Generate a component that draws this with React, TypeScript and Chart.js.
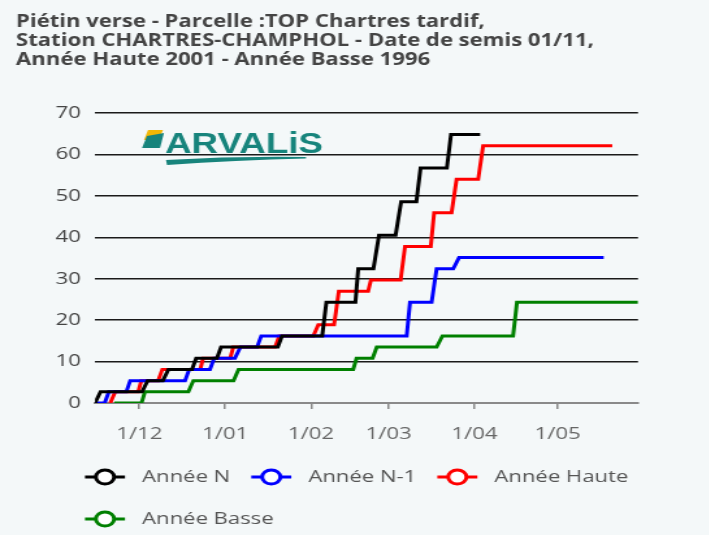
import React, { useEffect, useRef } from 'react';
import { Chart, registerables } from 'chart.js';

Chart.register(...registerables);

const titleLines = [
  'Piétin verse - Parcelle :TOP Chartres tardif,',
  'Station CHARTRES-CHAMPHOL - Date de semis 01/11,',
  'Année Haute 2001 - Année Basse 1996',
];

// x = days since 1 November (sowing date)
const xMinDay = 14;
const xMaxDay = 210;
const xTickDays = [30, 61, 92, 120, 151, 181];
const xTickLabels = ['1/12', '1/01', '1/02', '1/03', '1/04', '1/05'];
const yMax = 70;
const yStep = 10;

const seriesNames = ['Année N', 'Année N-1', 'Année Haute', 'Année Basse'];
const seriesColors = ['#000000', '#0000ff', '#ff0000', '#008000'];

const anneeNDays = [14, 16, 31, 33, 38.5, 40.5, 49, 50.5, 58, 59.5, 80, 81.5, 96, 97.5, 108, 109, 114.5, 116.5, 122.5, 124.5, 130, 131.5, 141, 142.5, 153];
const anneeNValues = [0, 2.7, 2.7, 5.4, 5.4, 8.1, 8.1, 10.8, 10.8, 13.5, 13.5, 16.2, 16.2, 24.3, 24.3, 32.4, 32.4, 40.5, 40.5, 48.6, 48.6, 56.7, 56.7, 64.8, 64.8];

const anneeN1Days = [14, 17.5, 19, 25.3, 26.7, 46.5, 48, 55.5, 57, 64.5, 66.5, 72.5, 74, 126.5, 127.7, 135.5, 137.3, 143.3, 145.4, 197.6];
const anneeN1Values = [0, 0, 2.7, 2.7, 5.4, 5.4, 8.1, 8.1, 10.8, 10.8, 13.5, 13.5, 16.2, 16.2, 24.3, 24.3, 32.4, 32.4, 35.1, 35.1];

const anneeHauteDays = [19.5, 21.3, 29.6, 30.7, 36.8, 38.3, 52, 53, 62.8, 63.9, 79, 80.5, 92.8, 94.6, 100.3, 102, 112.6, 113.6, 124.3, 125.9, 135.2, 136.4, 142.7, 144.5, 152.3, 154.1, 200.7];
const anneeHauteValues = [0, 2.7, 2.7, 5.4, 5.4, 8.1, 8.1, 10.8, 10.8, 13.5, 13.5, 16.2, 16.2, 18.9, 18.9, 27, 27, 29.7, 29.7, 37.8, 37.8, 45.9, 45.9, 54, 54, 62.1, 62.1];

const anneeBasseDays = [21, 30.8, 32, 47.7, 49.5, 64, 65.8, 107.2, 108.4, 114.2, 115.7, 137.3, 139.4, 164.9, 166.3, 210];
const anneeBasseValues = [0, 0, 2.7, 2.7, 5.4, 5.4, 8.1, 8.1, 10.8, 10.8, 13.5, 13.5, 16.2, 16.2, 24.3, 24.3];

const seriesDays = [anneeNDays, anneeN1Days, anneeHauteDays, anneeBasseDays];
const seriesValues = [anneeNValues, anneeN1Values, anneeHauteValues, anneeBasseValues];

const BG = '#f4f8f9';
const FONT = '"Open Sans", "Noto Sans", sans-serif';
// the reference picture is stretched horizontally; draw in a narrower space and stretch
const S = 1.3;
const PAGE_W = 709;
const PAGE_H = 535;
const L = (px: number) => px / S;

const backgroundAndLogo = {
  id: 'backgroundAndLogo',
  beforeDraw(chart: any) {
    const { ctx, width, height } = chart;
    ctx.save();
    ctx.fillStyle = BG;
    ctx.fillRect(0, 0, width, height);
    // logo drawn in page coordinates
    ctx.scale(1 / S, 1);
    ctx.fillStyle = '#f2b705';
    ctx.beginPath();
    ctx.moveTo(148, 130);
    ctx.lineTo(163, 130);
    ctx.lineTo(159, 140);
    ctx.lineTo(144, 140);
    ctx.closePath();
    ctx.fill();
    ctx.fillStyle = '#17847c';
    ctx.beginPath();
    ctx.moveTo(147, 136);
    ctx.lineTo(164, 133);
    ctx.lineTo(160, 148);
    ctx.lineTo(142, 148);
    ctx.closePath();
    ctx.fill();
    ctx.beginPath();
    ctx.moveTo(166, 160);
    ctx.quadraticCurveTo(235, 156, 306, 157);
    ctx.lineTo(306, 158.5);
    ctx.quadraticCurveTo(235, 160, 167, 165);
    ctx.closePath();
    ctx.fill();
    ctx.font = 'bold 29px "Liberation Sans", sans-serif';
    const w = ctx.measureText('ARVALiS').width;
    ctx.translate(165, 153);
    ctx.scale(158 / w, 1);
    ctx.fillText('ARVALiS', 0, 0);
    ctx.restore();
  },
};

const lineLegend = {
  id: 'lineLegend',
  afterDraw(chart: any) {
    const ctx = chart.ctx;
    ctx.save();
    ctx.font = '17px ' + FONT;
    ctx.textBaseline = 'middle';
    ctx.textAlign = 'left';
    const startX = L(85);
    let x = startX;
    let y = chart.chartArea.bottom + 74;
    chart.data.datasets.forEach((ds: any) => {
      const tw = ctx.measureText(ds.label).width;
      const w = L(57) + tw;
      if (x > startX && x + w > L(660)) {
        x = startX;
        y += 42;
      }
      ctx.strokeStyle = ds.borderColor;
      ctx.lineWidth = 3;
      ctx.beginPath();
      ctx.moveTo(x, y);
      ctx.lineTo(x + L(40), y);
      ctx.stroke();
      ctx.beginPath();
      ctx.arc(x + L(20), y, 7, 0, Math.PI * 2);
      ctx.fillStyle = '#ffffff';
      ctx.fill();
      ctx.stroke();
      ctx.fillStyle = '#555555';
      ctx.fillText(ds.label, x + L(57), y);
      x += w + L(21);
    });
    ctx.restore();
  },
};

export default function App() {
  const ref = useRef<HTMLCanvasElement | null>(null);
  useEffect(() => {
    if (!ref.current) return;
    const datasets = seriesNames.map((name, i) => ({
      label: name,
      data: seriesDays[i].map((d, j) => ({ x: d, y: seriesValues[i][j] })),
      borderColor: seriesColors[i],
      backgroundColor: seriesColors[i],
      borderWidth: 3,
      pointRadius: 0,
      tension: 0,
      fill: false,
    }));
    const chart = new Chart(ref.current, {
      type: 'line',
      data: { datasets },
      plugins: [backgroundAndLogo, lineLegend],
      options: {
        animation: false,
        responsive: true,
        maintainAspectRatio: false,
        layout: { padding: { left: L(16), right: L(PAGE_W - 638), top: 0, bottom: 94 } },
        plugins: {
          legend: { display: false },
          tooltip: { enabled: false },
          title: {
            display: true,
            text: titleLines,
            align: 'start',
            color: '#444444',
            font: { family: FONT, size: 17, weight: 'bold', lineHeight: 1.12 },
            padding: { top: 13, bottom: 42.9 },
          },
        },
        scales: {
          x: {
            type: 'linear',
            min: xMinDay,
            max: xMaxDay,
            afterBuildTicks: (scale: any) => {
              scale.ticks = xTickDays.map((v) => ({ value: v }));
            },
            afterFit: (scale: any) => {
              scale.height = 38;
            },
            ticks: {
              autoSkip: false,
              maxRotation: 0,
              padding: 15,
              color: '#666666',
              font: { family: FONT, size: 17 },
              callback: (value: any) => {
                const idx = xTickDays.indexOf(Number(value));
                return idx >= 0 ? xTickLabels[idx] : '';
              },
            },
            grid: {
              display: true,
              drawOnChartArea: false,
              drawTicks: true,
              tickLength: 6,
              color: '#888888',
              lineWidth: 1.5,
            },
            border: { display: true, color: '#8a8a8a', width: 2 },
          },
          y: {
            min: 0,
            max: yMax,
            afterFit: (scale: any) => {
              scale.width = L(95 - 16);
            },
            ticks: {
              stepSize: yStep,
              padding: L(14),
              color: '#444444',
              font: { family: FONT, size: 17 },
            },
            grid: {
              drawTicks: false,
              color: (c: any) => (c.tick && c.tick.value === 0 ? 'rgba(0,0,0,0)' : '#1a1a1a'),
              lineWidth: 1.5,
            },
            border: { display: false },
          },
        },
      },
    });
    return () => chart.destroy();
  }, []);
  return (
    <div style={{ position: 'fixed', left: 0, top: 0, width: PAGE_W, height: PAGE_H, background: BG, overflow: 'hidden' }}>
      <div
        style={{
          position: 'absolute',
          left: 0,
          top: 0,
          width: PAGE_W / S,
          height: PAGE_H,
          transform: `scaleX(${S})`,
          transformOrigin: '0 0',
        }}
      >
        <canvas ref={ref} />
      </div>
    </div>
  );
}
